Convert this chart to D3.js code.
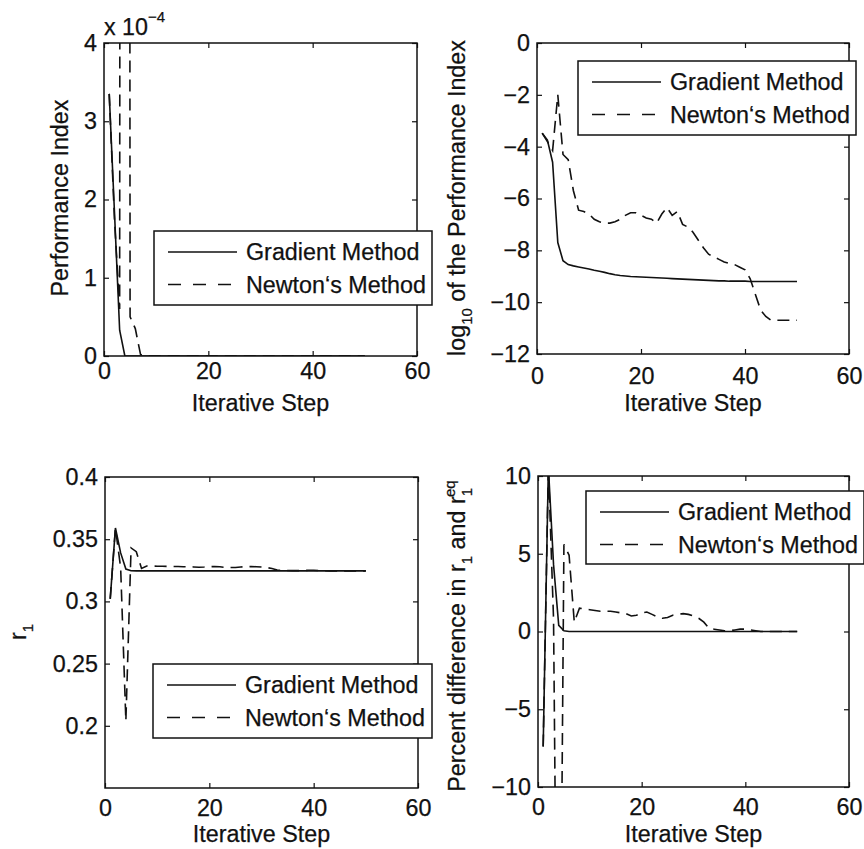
<!DOCTYPE html>
<html>
<head>
<meta charset="utf-8">
<script src="https://cdnjs.cloudflare.com/ajax/libs/d3/7.8.5/d3.min.js"></script>
<style>
  body { margin: 0; background: #fff; }
  text { font-family: 'Liberation Sans', Arial, sans-serif; fill: #111; stroke: #111; stroke-width: 0.25px; }
</style>
</head>
<body>
<script>
// iteration numbers 1..50
var steps = d3.range(1, 51);
var xTicks = [0, 20, 40, 60];

// performance index (units of 1e-4)
var perfGrad = [3.35, 1.85, 0.33, 0.0, 0, 0, 0, 0, 0, 0, 0, 0, 0, 0, 0, 0, 0, 0, 0, 0,
  0, 0, 0, 0, 0, 0, 0, 0, 0, 0, 0, 0, 0, 0, 0, 0, 0, 0, 0, 0, 0, 0, 0, 0, 0, 0, 0, 0, 0, 0];
var perfNewton = [3.35, 1.75, 0.6, 100, 0.5, 0.35, 0.02, 0.004, 0, 0, 0, 0, 0, 0, 0, 0, 0, 0, 0, 0,
  0, 0, 0, 0, 0, 0, 0, 0, 0, 0, 0, 0, 0, 0, 0, 0, 0, 0, 0, 0, 0, 0, 0, 0, 0, 0, 0, 0, 0, 0];

// log10 of the performance index
var logGrad = [-3.48, -3.75, -4.6, -7.7, -8.4, -8.55, -8.6, -8.64, -8.68, -8.72,
  -8.77, -8.81, -8.85, -8.9, -8.94, -8.97, -8.99, -9.01, -9.02, -9.03,
  -9.04, -9.05, -9.06, -9.07, -9.08, -9.09, -9.1, -9.11, -9.12, -9.13,
  -9.14, -9.15, -9.16, -9.17, -9.18, -9.18, -9.19, -9.19, -9.19, -9.19,
  -9.2, -9.2, -9.2, -9.2, -9.2, -9.2, -9.2, -9.2, -9.2, -9.2];
var logNewton = [-3.48, -3.8, -4.15, -2.0, -4.3, -4.5, -5.7, -6.45, -6.5, -6.6,
  -6.8, -6.9, -6.95, -6.95, -6.9, -6.8, -6.65, -6.55, -6.55, -6.65,
  -6.75, -6.8, -6.95, -6.6, -6.35, -6.65, -6.5, -7.0, -7.1, -7.3,
  -7.6, -7.9, -8.15, -8.25, -8.35, -8.45, -8.5, -8.55, -8.65, -8.75,
  -9.1, -9.7, -10.3, -10.55, -10.7, -10.7, -10.7, -10.7, -10.7, -10.7];

// r1
var r1Grad = [0.302, 0.359, 0.339, 0.326, 0.3246, 0.3245, 0.3245, 0.3245, 0.3245, 0.3245,
  0.3245, 0.3245, 0.3245, 0.3245, 0.3245, 0.3245, 0.3245, 0.3245, 0.3245, 0.3245,
  0.3245, 0.3245, 0.3245, 0.3245, 0.3245, 0.3245, 0.3245, 0.3245, 0.3245, 0.3245,
  0.3245, 0.3245, 0.3245, 0.3245, 0.3245, 0.3245, 0.3245, 0.3245, 0.3245, 0.3245,
  0.3245, 0.3245, 0.3245, 0.3245, 0.3245, 0.3245, 0.3245, 0.3245, 0.3245, 0.3245];
var r1Newton = [0.302, 0.359, 0.327, 0.204, 0.343, 0.340, 0.3265, 0.3285, 0.3284, 0.3283,
  0.3282, 0.3281, 0.328, 0.328, 0.3279, 0.3278, 0.3277, 0.3275, 0.3276, 0.3279,
  0.328, 0.3278, 0.3274, 0.3272, 0.3273, 0.3277, 0.3279, 0.328, 0.3279, 0.3276,
  0.3272, 0.3265, 0.3252, 0.325, 0.3248, 0.3247, 0.3247, 0.3248, 0.325, 0.325,
  0.3248, 0.3246, 0.3245, 0.3245, 0.3245, 0.3245, 0.3245, 0.3245, 0.3245, 0.3245];

// percent difference between r1 and r1eq
var pctGrad = [-7.4, 10.6, 4.3, 0.4, 0.05, 0, 0, 0, 0, 0, 0, 0, 0, 0, 0, 0, 0, 0, 0, 0,
  0, 0, 0, 0, 0, 0, 0, 0, 0, 0, 0, 0, 0, 0, 0, 0, 0, 0, 0, 0, 0, 0, 0, 0, 0, 0, 0, 0, 0, 0];
var pctNewton = [-7.4, 10.6, 0.8, -37, 5.6, 4.9, 0.6, 1.5, 1.45, 1.4,
  1.35, 1.3, 1.3, 1.3, 1.25, 1.2, 1.15, 1.0, 1.05, 1.2,
  1.25, 1.1, 0.95, 0.85, 0.9, 1.05, 1.1, 1.15, 1.1, 1.0,
  0.85, 0.6, 0.2, 0.15, 0.1, 0.05, 0.05, 0.1, 0.15, 0.15,
  0.1, 0.05, 0, 0, 0, 0, 0, 0, 0, 0];

var legendNames = ['Gradient Method', 'Newton\u2018s Method'];
var fs = 23.3;

var svg = d3.select('body').append('svg')
    .attr('width', 864)
    .attr('height', 849);

function drawPanel(p, id) {
    var x = d3.scaleLinear().domain([0, 60]).range([p.l, p.r]);
    var y = d3.scaleLinear().domain(p.yDomain).range([p.b, p.t]);
    var g = svg.append('g');

    g.append('clipPath').attr('id', 'clip' + id)
        .append('rect')
        .attr('x', p.l).attr('y', p.t)
        .attr('width', p.r - p.l).attr('height', p.b - p.t);

    var line = d3.line()
        .x(function(d, i) { return x(steps[i]); })
        .y(function(d) { return y(d); });

    p.series.forEach(function(s, k) {
        g.append('path')
            .datum(s)
            .attr('clip-path', 'url(#clip' + id + ')')
            .attr('d', line)
            .attr('fill', 'none')
            .attr('stroke', '#111')
            .attr('stroke-width', 1.6)
            .attr('stroke-dasharray', k == 1 ? '12,7' : null);
    });

    // axes, ticks pointing inward
    var bottom = g.append('g').attr('transform', 'translate(0,' + p.b + ')')
        .call(d3.axisBottom(x).tickValues(xTicks).tickSize(-5).tickPadding(p.xPad));
    var top = g.append('g').attr('transform', 'translate(0,' + p.t + ')')
        .call(d3.axisTop(x).tickValues(xTicks).tickSize(-5).tickFormat(''));
    var left = g.append('g').attr('transform', 'translate(' + p.l + ',0)')
        .call(d3.axisLeft(y).tickValues(p.yTicks).tickSize(-5).tickPadding(7)
            .tickFormat(p.yFmt));
    var right = g.append('g').attr('transform', 'translate(' + p.r + ',0)')
        .call(d3.axisRight(y).tickValues(p.yTicks).tickSize(-5).tickFormat(''));

    [bottom, top, left, right].forEach(function(a) {
        a.select('.domain').remove();
        a.selectAll('line').attr('stroke', '#111').attr('stroke-width', 1.2);
        a.selectAll('text').attr('font-size', fs).attr('font-family', null).attr('fill', '#111');
    });

    g.append('rect')
        .attr('x', p.l).attr('y', p.t)
        .attr('width', p.r - p.l).attr('height', p.b - p.t)
        .attr('fill', 'none')
        .attr('stroke', '#111')
        .attr('stroke-width', 1.5);

    g.append('text')
        .attr('x', (p.l + p.r) / 2)
        .attr('y', p.xLabelY)
        .attr('text-anchor', 'middle')
        .attr('font-size', fs)
        .text('Iterative Step');

    // legend
    var L = p.legend;
    var lg = g.append('g');
    lg.append('rect')
        .attr('x', L.x).attr('y', L.y)
        .attr('width', L.w).attr('height', L.h)
        .attr('fill', '#fff')
        .attr('stroke', '#111')
        .attr('stroke-width', 1.5);
    legendNames.forEach(function(name, k) {
        var cy = L.y + 21 + k * 32.5;
        lg.append('line')
            .attr('x1', L.x + 14).attr('x2', L.x + 83)
            .attr('y1', cy).attr('y2', cy)
            .attr('stroke', '#111')
            .attr('stroke-width', 1.5)
            .attr('stroke-dasharray', k == 1 ? '13,12' : null);
        lg.append('text')
            .attr('x', L.x + 92)
            .attr('y', cy + 8)
            .attr('font-size', fs)
            .text(name);
    });
    return g;
}

var fmtMinus = d3.format('');

var g1 = drawPanel({
    l: 104, r: 417, t: 43, b: 356,
    yDomain: [0, 4], yTicks: [0, 1, 2, 3, 4], yFmt: fmtMinus,
    series: [perfGrad, perfNewton],
    xPad: 6, xLabelY: 411,
    legend: {x: 154, y: 231, w: 278, h: 74}
}, 1);
var g2 = drawPanel({
    l: 537, r: 849, t: 43, b: 354,
    yDomain: [-12, 0], yTicks: [-12, -10, -8, -6, -4, -2, 0], yFmt: fmtMinus,
    series: [logGrad, logNewton],
    xPad: 13, xLabelY: 411,
    legend: {x: 578, y: 61, w: 278, h: 74}
}, 2);
var g3 = drawPanel({
    l: 105, r: 418, t: 477, b: 788,
    yDomain: [0.15, 0.4], yTicks: [0.2, 0.25, 0.3, 0.35, 0.4], yFmt: function(d) { return String(+d.toFixed(2)); },
    series: [r1Grad, r1Newton],
    xPad: 11, xLabelY: 842,
    legend: {x: 153, y: 664, w: 279, h: 74}
}, 3);
var g4 = drawPanel({
    l: 538, r: 849, t: 476, b: 787,
    yDomain: [-10, 10], yTicks: [-10, -5, 0, 5, 10], yFmt: fmtMinus,
    series: [pctGrad, pctNewton],
    xPad: 11, xLabelY: 842,
    legend: {x: 586, y: 491, w: 278, h: 73}
}, 4);

// exponent label of panel 1
var ex = svg.append('text').attr('x', 104).attr('y', 35).attr('font-size', fs);
ex.append('tspan').text('x 10');
ex.append('tspan').attr('font-size', 15).attr('dy', -13).text('\u22124');

// y axis labels
svg.append('text')
    .attr('transform', 'translate(68,198) rotate(-90)')
    .attr('text-anchor', 'middle')
    .attr('font-size', fs)
    .text('Performance Index');

var t2 = svg.append('text')
    .attr('transform', 'translate(465,198) rotate(-90)')
    .attr('text-anchor', 'middle')
    .attr('font-size', fs);
t2.append('tspan').text('log');
t2.append('tspan').attr('font-size', 15).attr('dy', 7).text('10');
t2.append('tspan').attr('dy', -7).text(' of the Performance Index');

var t3 = svg.append('text')
    .attr('transform', 'translate(26,632) rotate(-90)')
    .attr('text-anchor', 'middle')
    .attr('font-size', fs);
t3.append('tspan').text('r');
t3.append('tspan').attr('font-size', 15).attr('dy', 7).text('1');

var t4 = svg.append('text')
    .attr('transform', 'translate(465,636) rotate(-90)')
    .attr('text-anchor', 'middle')
    .attr('font-size', fs);
t4.append('tspan').text('Percent difference in r');
t4.append('tspan').attr('font-size', 15).attr('dy', 7).text('1');
t4.append('tspan').attr('dy', -7).text(' and r');
t4.append('tspan').attr('font-size', 15).attr('dy', 7).text('1');
t4.append('tspan').attr('font-size', 15).attr('dx', -9).attr('dy', -17).text('eq');
</script>
</body>
</html>
